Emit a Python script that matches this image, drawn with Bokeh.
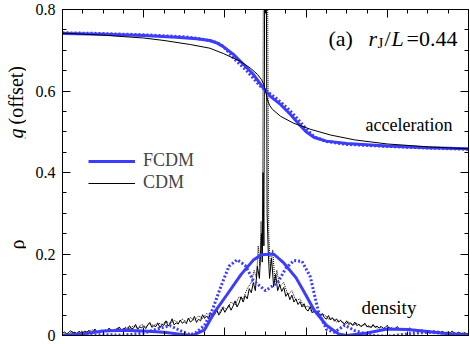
import math
from bokeh.plotting import figure
from bokeh.layouts import row
from bokeh.models import Range1d, LinearAxis, FixedTicker, Label, Legend, LegendItem
from bokeh.embed import file_html
from bokeh.resources import INLINE

# ---------------- data (x = position / L) ----------------
# acceleration (offset), FCDM solid
fc_acc_x = [0, 0.1, 0.2, 0.28, 0.33, 0.363, 0.38, 0.396, 0.421, 0.446, 0.47, 0.495, 0.512,
            0.537, 0.561, 0.586, 0.6, 0.62, 0.65, 0.7, 0.8, 0.9, 1.0]
fc_acc_y = [0.741, 0.739, 0.736, 0.732, 0.728, 0.724, 0.718, 0.709, 0.69, 0.665, 0.641, 0.607,
            0.587, 0.567, 0.543, 0.515, 0.5, 0.486, 0.477, 0.471, 0.465, 0.461, 0.458]
# acceleration (offset), FCDM dotted
fc2_acc_x = [0, 0.1, 0.2, 0.3, 0.34, 0.37, 0.389, 0.405, 0.421, 0.455, 0.487, 0.505, 0.529,
             0.554, 0.578, 0.598, 0.62, 0.65, 0.7, 0.8, 0.9, 1.0]
fc2_acc_y = [0.743, 0.741, 0.738, 0.733, 0.728, 0.722, 0.715, 0.700, 0.681, 0.648, 0.612, 0.598,
             0.58, 0.558, 0.533, 0.509, 0.488, 0.476, 0.469, 0.464, 0.46, 0.457]
# acceleration (offset), CDM
cdm_acc_x = [0, 0.1, 0.2, 0.25, 0.315, 0.363, 0.396, 0.438, 0.463, 0.48, 0.49, 0.495, 0.5,
             0.505, 0.51, 0.517, 0.537, 0.569, 0.611, 0.66, 0.72, 0.8, 0.9, 1.0]
cdm_acc_y = [0.742, 0.737, 0.73, 0.724, 0.714, 0.705, 0.692, 0.673, 0.656, 0.641, 0.628, 0.618,
             0.6, 0.578, 0.565, 0.555, 0.538, 0.521, 0.506, 0.492, 0.48, 0.47, 0.463, 0.458]

# density, FCDM solid
fc_rho_x = [0.0, 0.05, 0.1, 0.15, 0.2, 0.25, 0.29, 0.32, 0.35, 0.375, 0.405, 0.44, 0.47, 0.49,
            0.52, 0.545, 0.575, 0.6, 0.62, 0.65, 0.68, 0.7, 0.75, 0.8, 0.85, 0.9, 0.95, 1.0]
fc_rho_y = [0.0, 0.004, 0.011, 0.013, 0.011, 0.008, 0.003, 0.0, 0.014, 0.058, 0.10, 0.15, 0.185,
            0.198, 0.2, 0.178, 0.142, 0.098, 0.062, 0.025, 0.004, 0.0, 0.006, 0.016, 0.015, 0.01,
            0.004, 0.0]
# density, FCDM dotted
fc2_rho_x = [0.0, 0.1, 0.15, 0.2, 0.24, 0.265, 0.29, 0.315, 0.33, 0.35, 0.37, 0.39, 0.41, 0.43,
             0.45, 0.47, 0.5, 0.53, 0.55, 0.57, 0.59, 0.61, 0.63, 0.65, 0.67, 0.695, 0.72, 0.76,
             0.8, 0.85, 0.9, 1.0]
fc2_rho_y = [0.0, 0.002, 0.001, 0.006, 0.018, 0.024, 0.012, 0.002, 0.008, 0.025, 0.065, 0.12,
             0.17, 0.186, 0.172, 0.135, 0.11, 0.13, 0.165, 0.184, 0.182, 0.145, 0.06, 0.015,
             0.008, 0.025, 0.012, 0.0, -0.002, 0.004, 0.008, 0.002]

# density, CDM solid (noisy), sampled every 0.005 in x outside the central spike
cdm_left_y = [0.005, 0.009, 0.004, 0.007, 0.012, 0.006, 0.008, 0.005, 0.010, 0.007,
              0.006, 0.011, 0.008, 0.013, 0.007, 0.009, 0.016, 0.008, 0.010, 0.012,
              0.009, 0.014, 0.010, 0.018, 0.011, 0.013, 0.009, 0.016, 0.021, 0.012,
              0.015, 0.019, 0.013, 0.024, 0.016, 0.018, 0.027, 0.015, 0.021, 0.019,
              0.023, 0.017, 0.026, 0.032, 0.020, 0.024, 0.022, 0.030, 0.019, 0.027,
              0.025, 0.036, 0.023, 0.029, 0.041, 0.026, 0.031, 0.028, 0.038, 0.030,
              0.034, 0.029, 0.043, 0.033, 0.037, 0.047, 0.032, 0.040, 0.036, 0.051,
              0.042, 0.048, 0.040, 0.056, 0.046, 0.052, 0.063, 0.050, 0.058, 0.068,
              0.057, 0.066, 0.075, 0.062, 0.072, 0.085, 0.070, 0.080, 0.095, 0.082,
              0.098, 0.090, 0.115, 0.105]
cdm_mid_x = [0.47, 0.475, 0.48, 0.485, 0.49, 0.492, 0.494, 0.496, 0.498, 0.5, 0.502, 0.504,
             0.507, 0.51, 0.515, 0.52, 0.525, 0.53]
cdm_mid_y = [0.13, 0.11, 0.17, 0.14, 0.25, 0.18, 0.40, 0.22, 0.9, 0.9, 0.9, 0.30,
             0.20, 0.14, 0.19, 0.12, 0.15, 0.11]
cdm_right_y = [0.125, 0.108, 0.118, 0.096, 0.104, 0.088, 0.099, 0.082, 0.090, 0.076,
               0.083, 0.070, 0.078, 0.064, 0.060, 0.071, 0.056, 0.062, 0.052, 0.058,
               0.047, 0.054, 0.044, 0.040, 0.049, 0.038, 0.043, 0.035, 0.041, 0.033,
               0.037, 0.031, 0.029, 0.036, 0.027, 0.031, 0.025, 0.033, 0.024, 0.028,
               0.022, 0.026, 0.030, 0.021, 0.024, 0.019, 0.027, 0.020, 0.023, 0.018,
               0.022, 0.017, 0.020, 0.025, 0.016, 0.019, 0.015, 0.018, 0.022, 0.014,
               0.017, 0.013, 0.016, 0.012, 0.019, 0.013, 0.011, 0.015, 0.012, 0.010,
               0.014, 0.011, 0.009, 0.013, 0.010, 0.008, 0.012, 0.009, 0.011, 0.007,
               0.010, 0.008, 0.006, 0.009, 0.007, 0.011, 0.006, 0.005, 0.008, 0.006,
               0.004, 0.007, 0.005, 0.004]
cdm_left_x = [round(0.005 * i, 3) for i in range(len(cdm_left_y))]
cdm_right_x = [round(0.535 + 0.005 * i, 3) for i in range(len(cdm_right_y))]
cdm_rho_x = cdm_left_x + cdm_mid_x + cdm_right_x
cdm_rho_y = cdm_left_y + cdm_mid_y + cdm_right_y

# density, CDM dotted (noisy)
cdm2_rho_x = [0.005, 0.015, 0.025, 0.035, 0.045, 0.055, 0.065, 0.075, 0.085, 0.095, 0.105, 0.115,
              0.125, 0.135, 0.145, 0.155, 0.165, 0.175, 0.185, 0.195, 0.205, 0.215, 0.225, 0.235,
              0.245, 0.255, 0.265, 0.275, 0.285, 0.295, 0.305, 0.315, 0.325, 0.335, 0.345, 0.355,
              0.365, 0.375, 0.385, 0.395, 0.405, 0.415, 0.425, 0.435, 0.445, 0.455, 0.465, 0.472,
              0.478, 0.482, 0.486, 0.489, 0.492, 0.495, 0.5, 0.505, 0.508, 0.512, 0.518, 0.523,
              0.528, 0.535, 0.545, 0.555, 0.565, 0.575, 0.585, 0.595, 0.605, 0.615, 0.625, 0.635,
              0.645, 0.655, 0.665, 0.675, 0.685, 0.695, 0.705, 0.715, 0.725, 0.735, 0.745, 0.755,
              0.765, 0.775, 0.785, 0.795, 0.805, 0.815, 0.825, 0.835, 0.845, 0.855, 0.865, 0.875,
              0.885, 0.895, 0.905, 0.915, 0.925, 0.935, 0.945, 0.955, 0.965, 0.975, 0.985, 0.995]
cdm2_rho_y = [0.006, 0.004, 0.009, 0.005, 0.011, 0.007, 0.010, 0.014, 0.008, 0.013, 0.010, 0.017,
              0.011, 0.019, 0.014, 0.020, 0.017, 0.024, 0.019, 0.027, 0.021, 0.029, 0.024, 0.031,
              0.027, 0.035, 0.029, 0.037, 0.032, 0.040, 0.034, 0.044, 0.037, 0.048, 0.042, 0.054,
              0.047, 0.062, 0.055, 0.071, 0.064, 0.082, 0.075, 0.095, 0.090, 0.115, 0.130, 0.16,
              0.14, 0.22, 0.17, 0.28, 0.20, 0.9, 0.9, 0.9, 0.25, 0.17, 0.21, 0.13, 0.16, 0.12,
              0.13, 0.10, 0.11, 0.085, 0.09, 0.07, 0.072, 0.056, 0.06, 0.046, 0.052, 0.040, 0.044,
              0.033, 0.038, 0.028, 0.033, 0.025, 0.030, 0.022, 0.027, 0.020, 0.024, 0.018, 0.022,
              0.016, 0.020, 0.014, 0.018, 0.013, 0.016, 0.011, 0.015, 0.010, 0.013, 0.008, 0.011,
              0.007, 0.010, 0.006, 0.008, 0.005, 0.007, 0.004, 0.006, 0.003]

y_major = [0, 0.2, 0.4, 0.6, 0.8]
y_minor = [round(0.05 * i, 2) for i in range(17)]
x_major = [0, 0.2, 0.4, 0.6, 0.8, 1.0]
x_minor = [round(0.05 * i, 2) for i in range(21)]

BLUE = "#3c3cff"
FONT = "Liberation Serif"
SIDE_W = 26
TOTAL_W = 470
TOTAL_H = 344
TOP = 9
BOTTOM = 9

# ---------------- main plot ----------------
p = figure(width=TOTAL_W - SIDE_W, height=TOTAL_H, x_range=Range1d(0, 1), y_range=Range1d(0, 0.8),
           output_backend="svg", toolbar_location=None,
           x_axis_location=None, y_axis_location=None,
           min_border_left=62 - SIDE_W, min_border_right=2, min_border_top=TOP,
           min_border_bottom=BOTTOM)
p.xgrid.visible = False
p.ygrid.visible = False
p.outline_line_color = "black"
p.outline_line_width = 1
p.background_fill_color = "white"
p.border_fill_color = "white"


def make_axis(ticks, minor, labels):
    ax = LinearAxis(ticker=FixedTicker(ticks=ticks, minor_ticks=minor))
    ax.major_tick_in = 8
    ax.major_tick_out = 0
    ax.minor_tick_in = 4
    ax.minor_tick_out = 0
    ax.axis_line_color = "black"
    ax.major_tick_line_color = "black"
    ax.minor_tick_line_color = "black"
    if labels:
        ax.major_label_text_font = FONT
        ax.major_label_text_font_size = "16px"
        ax.major_label_text_color = "black"
        ax.major_label_standoff = 7
        ax.major_label_overrides = {0: "0"}
    else:
        ax.major_label_text_font_size = "0px"
        ax.major_label_standoff = 0
    return ax


p.add_layout(make_axis(y_major, y_minor, True), "left")
p.add_layout(make_axis(y_major, y_minor, False), "right")
p.add_layout(make_axis(x_major, x_minor, False), "below")
p.add_layout(make_axis(x_major, x_minor, False), "above")

# density curves
p.line(cdm2_rho_x, cdm2_rho_y, line_color="black", line_width=1, line_dash="1 1")
p.line(cdm_rho_x, cdm_rho_y, line_color="black", line_width=1)
p.line(fc2_rho_x, fc2_rho_y, line_color=BLUE, line_width=3, line_dash="2 2")
p.line(fc_rho_x, fc_rho_y, line_color=BLUE, line_width=3)

# acceleration curves
p.line(fc2_acc_x, fc2_acc_y, line_color=BLUE, line_width=3, line_dash="2 2")
r_fc = p.line(fc_acc_x, fc_acc_y, line_color=BLUE, line_width=3)
r_cdm = p.line(cdm_acc_x, cdm_acc_y, line_color="black", line_width=1)

legend = Legend(items=[LegendItem(label="FCDM", renderers=[r_fc]),
                       LegendItem(label="CDM", renderers=[r_cdm])],
                location=(26, 142), orientation="vertical",
                glyph_width=47, glyph_height=20, label_height=20, label_standoff=8,
                spacing=1, padding=0, margin=0,
                label_text_font=FONT, label_text_font_size="18px",
                border_line_color=None, background_fill_alpha=0)
p.add_layout(legend)


def lab(fig, x, y, text, size="19px", style="normal", angle=0.0, align="left",
        base="alphabetic"):
    fig.add_layout(Label(x=x, y=y, text=text, text_font=FONT, text_font_size=size,
                         text_font_style=style, text_color="black", angle=angle,
                         text_align=align, text_baseline=base))


def ux(px):
    return (px - 62) / 406.0


def vy(py):
    return (335 - py) / 407.5


lab(p, ux(365), vy(124), "acceleration", size="18px")
lab(p, ux(361), vy(307), "density", size="19px")

# panel annotation "(a) r_J/L=0.44"
lab(p, ux(328), vy(38), "(a)", size="22px")
lab(p, ux(368), vy(38), "r", size="22px", style="italic")
lab(p, ux(377), vy(42), "J", size="15px")
lab(p, ux(384), vy(38), "/", size="22px")
lab(p, ux(391), vy(38), "L", size="22px", style="italic")
lab(p, ux(406), vy(38), "=0.44", size="22px")

# ---------------- side strip for the y titles ----------------
s = figure(width=SIDE_W, height=TOTAL_H, x_range=Range1d(0, SIDE_W), y_range=Range1d(0, 0.8),
           output_backend="svg", toolbar_location=None,
           x_axis_location=None, y_axis_location=None,
           min_border_left=0, min_border_right=0, min_border_top=TOP, min_border_bottom=BOTTOM)
s.xgrid.visible = False
s.ygrid.visible = False
s.outline_line_color = None
s.background_fill_color = "white"
s.border_fill_color = "white"

lab(s, 15, vy(138), "g", size="20px", style="italic", angle=math.pi / 2, base="middle")
lab(s, 15, vy(124), "(offset)", size="20px", angle=math.pi / 2, base="middle")
lab(s, 16, vy(244), "ρ", size="20px", angle=math.pi / 2, align="center", base="middle")

layout = row(s, p, spacing=0)
open("out.html", "w").write(file_html(layout, INLINE))
